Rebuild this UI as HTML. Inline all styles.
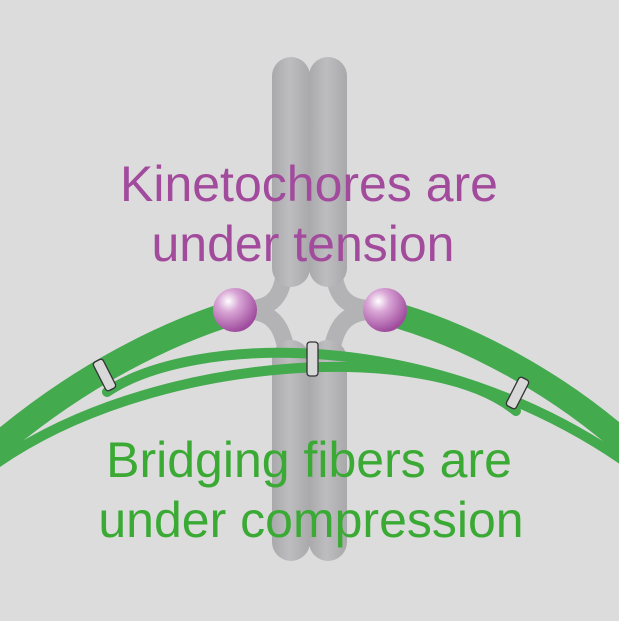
<!DOCTYPE html>
<html><head><style>
html,body{margin:0;padding:0;background:#dcdcdc;}
svg{display:block}
</style></head><body>
<svg width="619" height="621" viewBox="0 0 619 621" xmlns="http://www.w3.org/2000/svg">
<defs>
<linearGradient id="arm" x1="0" x2="1" y1="0" y2="0">
<stop offset="0" stop-color="#a9a9ab"/><stop offset="0.45" stop-color="#bdbdbf"/><stop offset="1" stop-color="#a9a9ab"/>
</linearGradient>
<radialGradient id="ball" cx="0.35" cy="0.3" r="0.7">
<stop offset="0" stop-color="#ffffff"/><stop offset="0.35" stop-color="#d9a6d6"/><stop offset="1" stop-color="#a04c9e"/>
</radialGradient>
</defs>
<rect width="619" height="621" fill="#dcdcdc"/>
<g fill="none" stroke="#b3b3b5" stroke-width="17" stroke-linecap="round">
<path d="M286,240 C286,290 280,306 250,309"/>
<path d="M250,311 C278,314 286,330 290,380"/>
<path d="M332,240 C332,290 338,306 370,309"/>
<path d="M370,311 C340,314 332,330 328,380"/>
</g>
<rect x="272" y="57" width="38" height="230" rx="19" fill="url(#arm)"/>
<rect x="309" y="57" width="38" height="230" rx="19" fill="url(#arm)"/>
<rect x="272" y="340" width="38" height="221" rx="19" fill="url(#arm)"/>
<rect x="309" y="340" width="38" height="221" rx="19" fill="url(#arm)"/>
<g fill="none" stroke="#43aa4e" stroke-linecap="round">
<path d="M-10,452 C80,374 170,332 235,312" stroke-width="25"/>
<path d="M385,312 C470,335 560,385 630,448" stroke-width="25"/>
<path d="M107,392 C190,336 430,324 630,465" stroke-width="10"/>
<path d="M-10,468 C150,352 430,340 516,411" stroke-width="10"/>
</g>
<g fill="#d8d8d8" stroke="#333" stroke-width="1.3">
<rect x="307" y="342" width="11" height="34" rx="3"/>
<rect x="99" y="359" width="11" height="32" rx="3" transform="rotate(-27 104.5 375)"/>
<rect x="512" y="377" width="11" height="32" rx="3" transform="rotate(27 517.5 393)"/>
</g>
<circle cx="235" cy="310" r="22" fill="url(#ball)"/>
<circle cx="385" cy="310" r="22" fill="url(#ball)"/>
<g font-family="Liberation Sans, sans-serif" font-size="50" text-anchor="middle">
<text x="309" y="201" fill="#a24a9c">Kinetochores are</text>
<text x="303" y="261" fill="#a24a9c">under tension</text>
<text x="309" y="477" fill="#3aaa35">Bridging fibers are</text>
<text x="311" y="537" fill="#3aaa35">under compression</text>
</g>
</svg>
</body></html>
